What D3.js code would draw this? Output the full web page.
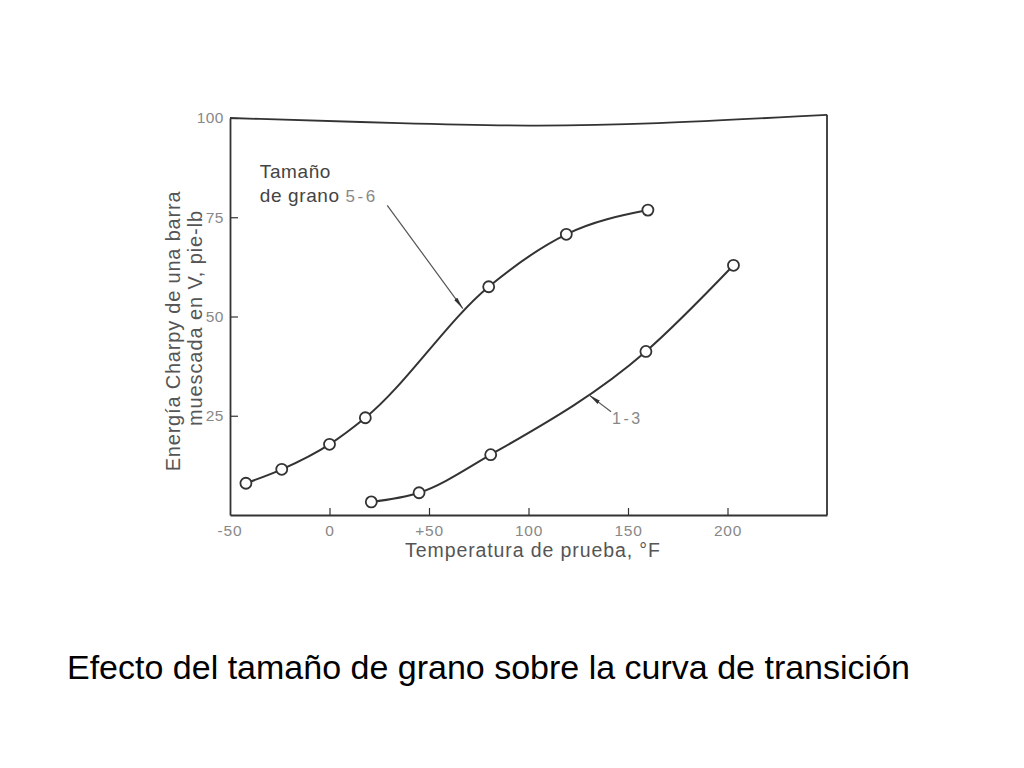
<!DOCTYPE html>
<html>
<head>
<meta charset="utf-8">
<script src="https://cdn.jsdelivr.net/npm/d3@7"></script>
<style>
  body { margin: 0; background: #fff; }
  svg text { font-family: "Liberation Sans", Arial, sans-serif; }
</style>
</head>
<body>
<svg id="chart" width="1024" height="768"></svg>
<script>
// grain size 5-6 (temperature F, Charpy energy ft-lb)
const temp56 = [-42, -24, 0, 18, 80, 119, 160];
const energy56 = [8, 11.5, 17.8, 24.5, 57.5, 70.7, 76.8];

// grain size 1-3
const temp13 = [21, 45, 81, 159, 203];
const energy13 = [3.3, 5.6, 15.2, 41.2, 62.9];

const xTicks = [0, 50, 100, 150, 200];
const xTickLabels = ['0', '+50', '100', '150', '200'];
const yTicks = [25, 50, 75, 100];

const svg = d3.select('#chart');

// scales
const x = d3.scaleLinear().domain([-50, 250]).range([230, 827]);
const y = d3.scaleLinear().domain([0, 100]).range([515, 118]);

const ink = '#333';

// frame (the top edge of the scanned figure is slightly wavy)
const frameTop = [[-50, 100], [40, 98.6], [100, 97.9], [160, 98.4], [250, 100.8]];
svg.append('path')
  .attr('d', d3.line().x(d => x(d[0])).y(d => y(d[1])).curve(d3.curveBasis)(frameTop))
  .attr('fill', 'none').attr('stroke', ink).attr('stroke-width', 1.8);

svg.append('line')
  .attr('x1', x(250)).attr('x2', x(250))
  .attr('y1', y(100.8)).attr('y2', y(0))
  .attr('stroke', ink).attr('stroke-width', 1.8);

// x axis
const xAxis = svg.append('g')
  .attr('transform', `translate(0, ${y(0)})`)
  .call(d3.axisBottom(x)
    .tickValues(xTicks)
    .tickFormat((d, i) => xTickLabels[i])
    .tickSize(-7)
    .tickPadding(10)
    .tickSizeOuter(0));
xAxis.select('.domain').attr('stroke', ink).attr('stroke-width', 1.8);
xAxis.selectAll('.tick line').attr('stroke', ink).attr('stroke-width', 1.2);
xAxis.selectAll('.tick text').attr('fill', '#888').attr('font-size', 15.5)
  .attr('letter-spacing', 0.8);

// the -50 corner label
svg.append('text')
  .attr('x', x(-50)).attr('y', y(0) + 10).attr('dy', '0.71em')
  .attr('text-anchor', 'middle')
  .attr('fill', '#888').attr('font-size', 15.5).attr('letter-spacing', 0.8)
  .text('-50');

// y axis
const yAxis = svg.append('g')
  .attr('transform', `translate(${x(-50)}, 0)`)
  .call(d3.axisLeft(y)
    .tickValues(yTicks)
    .tickSize(-8)
    .tickPadding(6)
    .tickSizeOuter(0));
yAxis.select('.domain').attr('stroke', ink).attr('stroke-width', 1.8);
yAxis.selectAll('.tick line').attr('stroke', ink).attr('stroke-width', 1.2);
yAxis.selectAll('.tick text').attr('fill', '#888').attr('font-size', 15.5)
  .attr('letter-spacing', 0.5);

// axis titles
svg.append('text')
  .attr('x', 533).attr('y', 557)
  .attr('text-anchor', 'middle')
  .attr('fill', '#555').attr('font-size', 19.5)
  .attr('letter-spacing', 0.9)
  .text('Temperatura de prueba, °F');

svg.append('text')
  .attr('transform', 'translate(180, 331) rotate(-90)')
  .attr('text-anchor', 'middle')
  .attr('fill', '#555').attr('font-size', 20)
  .attr('letter-spacing', 0.8)
  .text('Energía Charpy de una barra');

svg.append('text')
  .attr('transform', 'translate(202, 318) rotate(-90)')
  .attr('text-anchor', 'middle')
  .attr('fill', '#555').attr('font-size', 20)
  .attr('letter-spacing', 0.9)
  .text('muescada en V, pie-lb');

// curves
const line = d3.line()
  .x(d => x(d[0]))
  .y(d => y(d[1]))
  .curve(d3.curveMonotoneX);

const series = [
  d3.zip(temp56, energy56),
  d3.zip(temp13, energy13)
];

svg.selectAll('.curve')
  .data(series)
  .enter()
  .append('path')
  .attr('class', 'curve')
  .attr('d', line)
  .attr('fill', 'none')
  .attr('stroke', ink)
  .attr('stroke-width', 2);

svg.selectAll('.pts')
  .data(series)
  .enter()
  .append('g')
  .attr('class', 'pts')
  .selectAll('circle')
  .data(d => d)
  .enter()
  .append('circle')
  .attr('cx', d => x(d[0]))
  .attr('cy', d => y(d[1]))
  .attr('r', 5.5)
  .attr('fill', '#fff')
  .attr('stroke', ink)
  .attr('stroke-width', 1.8);

// annotations
svg.append('defs').append('marker')
  .attr('id', 'arrow')
  .attr('viewBox', '0 0 12 6')
  .attr('refX', 12).attr('refY', 3)
  .attr('markerWidth', 12).attr('markerHeight', 6)
  .attr('markerUnits', 'userSpaceOnUse')
  .attr('orient', 'auto')
  .append('path')
  .attr('d', 'M0,1 L12,3 L0,5 Z')
  .attr('fill', ink);

const label56 = svg.append('text')
  .attr('fill', '#444').attr('font-size', 19).attr('letter-spacing', 0.6);
label56.append('tspan').attr('x', x(-35)).attr('y', 178).text('Tamaño');
label56.append('tspan').attr('x', x(-35)).attr('y', 202).text('de grano ');
label56.append('tspan').attr('fill', '#888').attr('font-size', 17).attr('letter-spacing', 2.5).text('5-6');

svg.append('line')
  .attr('x1', x(29)).attr('y1', y(78))
  .attr('x2', x(67)).attr('y2', y(52))
  .attr('stroke', '#555').attr('stroke-width', 1.2)
  .attr('marker-end', 'url(#arrow)');

svg.append('text')
  .attr('x', x(142)).attr('y', y(23))
  .attr('fill', '#888').attr('font-size', 16).attr('letter-spacing', 2.5)
  .text('1-3');

svg.append('line')
  .attr('x1', x(141.5)).attr('y1', y(26))
  .attr('x2', x(130.5)).attr('y2', y(30.2))
  .attr('stroke', '#555').attr('stroke-width', 1.2)
  .attr('marker-end', 'url(#arrow)');

// caption
svg.append('text')
  .attr('x', 67).attr('y', 679)
  .attr('fill', '#000').attr('font-size', 34)
  .text('Efecto del tamaño de grano sobre la curva de transición');
</script>
</body>
</html>
